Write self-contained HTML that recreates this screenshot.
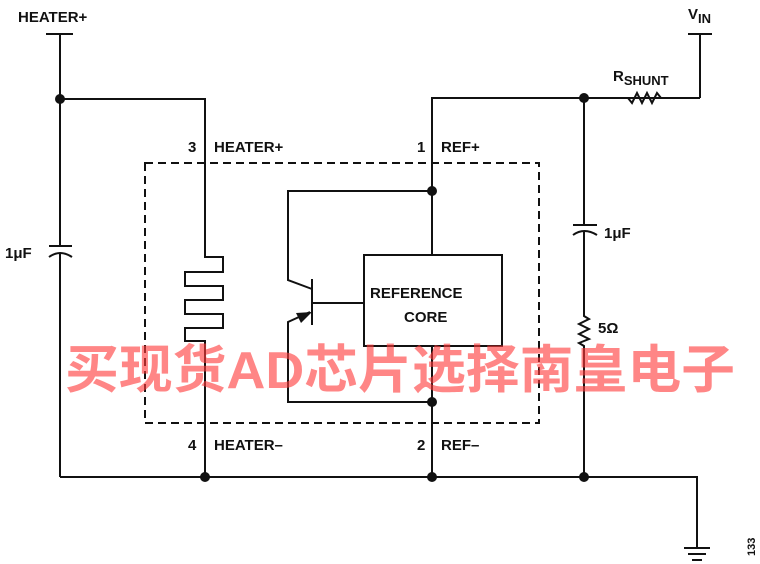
<!DOCTYPE html>
<html><head><meta charset="utf-8"><style>
html,body{margin:0;padding:0;background:#fff;width:760px;height:564px;overflow:hidden}
svg{display:block}
text{font-family:"Liberation Sans",Arial,sans-serif;font-weight:bold;fill:#111}
</style></head><body>
<svg width="760" height="564" viewBox="0 0 760 564" xmlns="http://www.w3.org/2000/svg">
<g stroke="#111" stroke-width="2" fill="none">
<!-- left HEATER+ rail -->
<line x1="46" y1="34" x2="73" y2="34"/>
<line x1="60" y1="34" x2="60" y2="246"/>
<line x1="49" y1="246" x2="72" y2="246"/>
<path d="M49,257 Q60,249 72,257"/>
<line x1="60" y1="253" x2="60" y2="477"/>
<polyline points="60,99 205,99 205,257 223,257 223,272 185,272 185,286 223,286 223,300 185,300 185,314 223,314 223,328 185,328 185,341 205,341 205,477"/>
<!-- dashed box -->
<rect x="145" y="163" width="394" height="260" stroke-dasharray="8,5"/>
<!-- REF rail -->
<polyline points="432,254 432,98 700,98"/>
<line x1="432" y1="346" x2="432" y2="477"/>
<rect x="364" y="255" width="138" height="91"/>
<polyline points="432,191 288,191 288,280 312,289"/>
<line x1="312" y1="279" x2="312" y2="325"/>
<line x1="312" y1="303" x2="364" y2="303"/>
<polyline points="310,312 288,322 288,402 432,402"/>
<!-- right branch -->
<line x1="584" y1="98" x2="584" y2="225"/>
<line x1="573" y1="225" x2="597" y2="225"/>
<path d="M573,235 Q584,227 597,235"/>
<polyline points="584,231 584,316 589,319 579,324 589,329 579,334 589,339 579,343 584,346 584,477"/>
<!-- Rshunt -->
<polyline points="628,98 632,103 637,93 642,103 647,93 652,103 657,93 661,98"/>
<polyline points="700,98 700,34"/>
<line x1="688" y1="34" x2="712" y2="34"/>
<!-- bottom -->
<polyline points="60,477 697,477 697,548"/>
<line x1="684" y1="548" x2="710" y2="548"/>
<line x1="688" y1="554" x2="706" y2="554"/>
<line x1="692" y1="560" x2="702" y2="560"/>
</g>
<polygon points="312,312 296,313 301,323" fill="#111"/>
<g fill="#111">
<circle cx="60" cy="99" r="5"/>
<circle cx="432" cy="191" r="5"/>
<circle cx="432" cy="402" r="5"/>
<circle cx="584" cy="98" r="5"/>
<circle cx="205" cy="477" r="5"/>
<circle cx="432" cy="477" r="5"/>
<circle cx="584" cy="477" r="5"/>
</g>
<g font-size="15">
<text x="18" y="22">HEATER+</text>
<text x="5" y="258">1μF</text>
<text x="188" y="152">3</text><text x="214" y="152">HEATER+</text>
<text x="417" y="152">1</text><text x="441" y="152">REF+</text>
<text x="188" y="450">4</text><text x="214" y="450">HEATER–</text>
<text x="417" y="450">2</text><text x="441" y="450">REF–</text>
<text x="604" y="238">1μF</text>
<text x="598" y="333">5Ω</text>
<text x="370" y="298">REFERENCE</text>
<text x="404" y="322">CORE</text>
<text x="613" y="81">R<tspan font-size="13" dy="4">SHUNT</tspan></text>
<text x="688" y="19">V<tspan font-size="13" dy="4">IN</tspan></text>
</g>
<text x="0" y="0" font-size="11" font-weight="normal" transform="translate(755,556) rotate(-90)">133</text>
<text x="65" y="388" font-size="52" style="font-family:'Liberation Sans','Noto Sans CJK SC',sans-serif;font-weight:bold;fill:rgba(255,60,60,0.62)" textLength="670" lengthAdjust="spacingAndGlyphs">买现货AD芯片选择南皇电子</text>
</svg>
</body></html>
